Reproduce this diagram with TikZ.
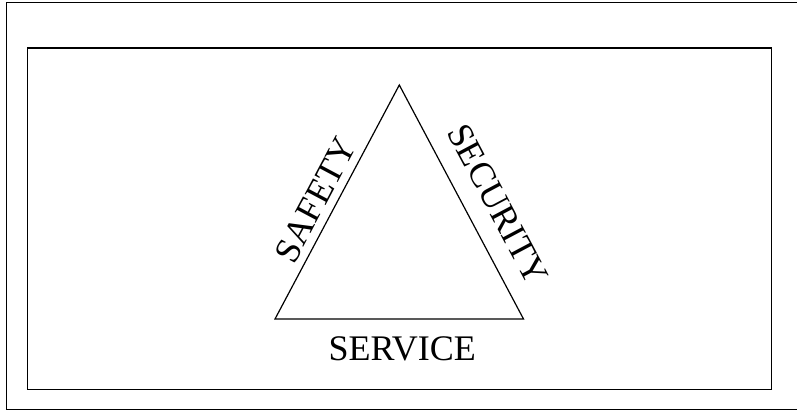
\documentclass[tikz,border=0pt]{standalone}
\usepackage{fontspec}
\setmainfont{Liberation Serif}
\usetikzlibrary{positioning}

\begin{document}
\begin{tikzpicture}[
    x=0.5pt, y=-0.5pt,
    frame/.style={draw, line width=0.8pt},
    side/.style={draw, line width=0.6pt, line join=miter},
    lbl/.style={inner sep=0pt, font=\fontsize{18}{21}\selectfont}
]
\useasboundingbox (0,0) rectangle (797,411);

% frames
\draw[frame] (6.5,2.5) rectangle (800,409.5);
\draw[frame] (27.5,48) rectangle (771.5,389.5);

% triangle
\coordinate (apex) at (399.3,85);
\coordinate (lft) at (275,319);
\coordinate (rgt) at (523.5,319);
\draw[side] (apex) -- (rgt) -- (lft) -- cycle;

\path (lft) -- (apex) node[lbl, pos=0.47, sloped, above=3.7pt] (safety) {SAFETY};
\path (apex) -- (rgt) node[lbl, pos=0.573, sloped, above=9.3pt] (security) {SECURITY};
\path (lft) -- (rgt) node[lbl, midway, below=8.6pt, xshift=1.5pt] (service) {SERVICE};
\end{tikzpicture}
\end{document}
